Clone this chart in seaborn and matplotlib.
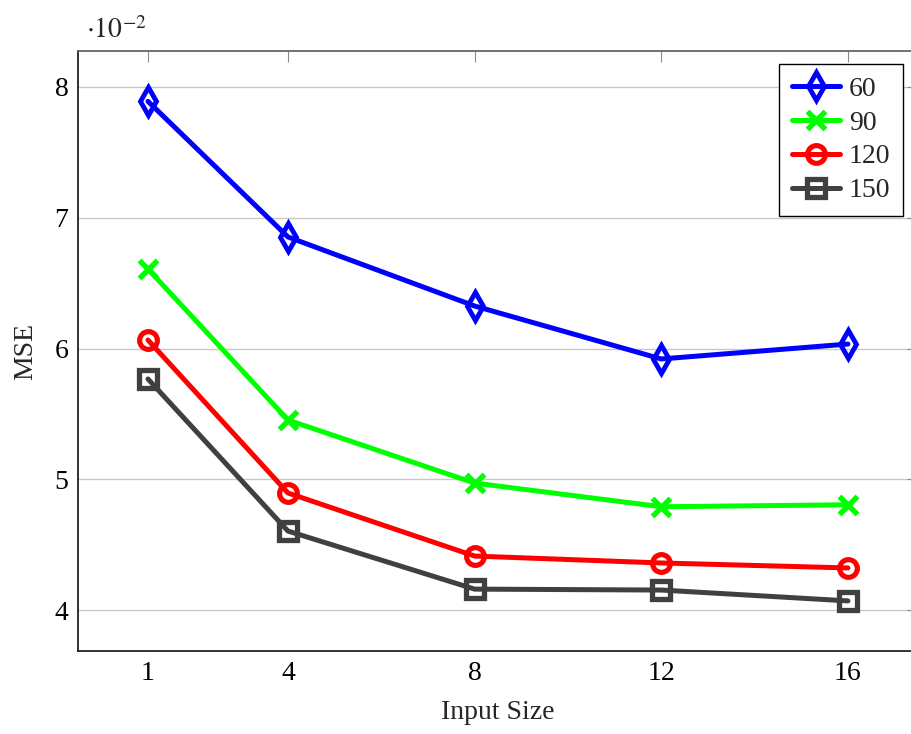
import numpy as np
import pandas as pd
import matplotlib
matplotlib.use("Agg")
import matplotlib.pyplot as plt
from matplotlib.markers import MarkerStyle
import seaborn as sns

# Mean squared error versus input size, one series per setting
input_sizes = [1, 4, 8, 12, 16]
series_names = ["60", "90", "120", "150"]
mse_60 = [0.07890, 0.06853, 0.06325, 0.05920, 0.06034]
mse_90 = [0.06608, 0.05453, 0.04971, 0.04790, 0.04805]
mse_120 = [0.06065, 0.04895, 0.04413, 0.04360, 0.04322]
mse_150 = [0.05767, 0.04604, 0.04160, 0.04153, 0.04070]
y_ticks = [0.04, 0.05, 0.06, 0.07, 0.08]
y_tick_labels = ["4", "5", "6", "7", "8"]

colors = {"60": "#0000ff", "90": "#00ff00", "120": "#ff0000", "150": "#404040"}
markers = {"60": MarkerStyle("d"), "90": MarkerStyle("x"), "120": MarkerStyle("o"),
           "150": MarkerStyle("s")}
marker_sizes = {"60": 14, "90": 12.5, "120": 12.8, "150": 12.5}
marker_edge = {"60": 3.5, "90": 3.9, "120": 3.7, "150": 3.8}

df = pd.concat(
    [
        pd.DataFrame({"Input Size": input_sizes, "MSE": vals, "series": name})
        for name, vals in zip(series_names, [mse_60, mse_90, mse_120, mse_150])
    ],
    ignore_index=True,
)

sns.set_style("white")
plt.rcParams["font.family"] = ["Liberation Serif", "DejaVu Serif"]
plt.rcParams["mathtext.fontset"] = "stix"

fig = plt.figure(figsize=(9.12, 7.34), dpi=100)
ax = fig.add_axes([0.0855, 0.1131, 0.921, 0.8169])

ax.yaxis.grid(True, color="#c8c8c8", linewidth=1.0, zorder=0)
ax.xaxis.grid(False)
ax.set_axisbelow(True)

sns.lineplot(
    data=df, x="Input Size", y="MSE", hue="series", hue_order=series_names,
    palette=colors, legend=False, ax=ax, linewidth=3.6, zorder=3,
    marker="o", markerfacecolor="none",
)

lines = ax.get_lines()[-len(series_names):]
for line, name in zip(lines, series_names):
    c = colors[name]
    line.set_color(c)
    line.set_marker(markers[name])
    line.set_markersize(marker_sizes[name])
    line.set_markeredgecolor(c)
    line.set_markerfacecolor("none")
    line.set_markeredgewidth(marker_edge[name])
    line.set_solid_joinstyle("miter")

ax.set_xlim(-0.5, 17.5)
ax.set_ylim(0.03687, 0.08272)
ax.set_xticks(input_sizes)
ax.set_xticklabels([str(v) for v in input_sizes])
ax.set_yticks(y_ticks)
ax.set_yticklabels(y_tick_labels)

ax.tick_params(axis="both", direction="in", length=8, width=0.8, color="#888888",
               labelsize=20, labelcolor="black", pad=7)
ax.tick_params(axis="x", top=True)
ax.tick_params(axis="y", right=True)

for side in ["left", "bottom"]:
    ax.spines[side].set_color("#222222")
    ax.spines[side].set_linewidth(1.3)
for side in ["top", "right"]:
    ax.spines[side].set_color("#666666")
    ax.spines[side].set_linewidth(1.3)

ax.set_xlabel("Input Size", fontsize=20, labelpad=10)
ax.set_ylabel("MSE", fontsize=20, labelpad=12)

ax.text(0.010, 1.013, r"$\cdot 10^{-2}$", transform=ax.transAxes,
        fontsize=20, ha="left", va="bottom")

leg = ax.legend(
    handles=lines, labels=series_names, loc="upper right",
    bbox_to_anchor=(0.982, 0.979), borderaxespad=0, fontsize=20,
    frameon=True, fancybox=False, edgecolor="black", framealpha=1,
    handlelength=1.75, handletextpad=0.3, labelspacing=0.3, borderpad=0.45,
)
leg.get_frame().set_linewidth(1.0)

fig.savefig("out.png", dpi=100)
